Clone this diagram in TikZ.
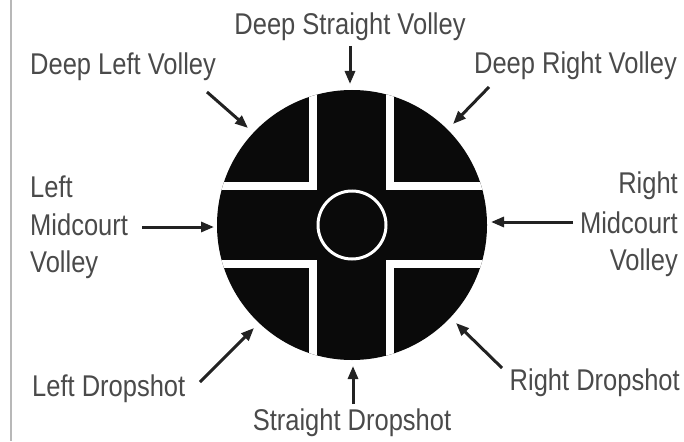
\documentclass[tikz,border=0pt]{standalone}
\usepackage{fontspec}
\setmainfont{Liberation Sans}[FakeStretch=0.85]
\usetikzlibrary{arrows.meta}
\definecolor{txtgray}{HTML}{4A4A4A}
\definecolor{arrgray}{HTML}{222222}
\definecolor{diskblack}{HTML}{0A0A0A}
\definecolor{edgegray}{HTML}{B8B8B8}
\begin{document}
\begin{tikzpicture}[x=1pt,y=-1pt,
  lbl/.style={text=txtgray, font=\fontsize{30}{36}\selectfont, inner sep=0pt},
  arr/.style={draw=arrgray, line width=3pt, -{Triangle[length=13pt,width=10pt]}},
  gap/.style={draw=white, line width=8pt, miter limit=10}]
\useasboundingbox (0,0) rectangle (684,441);
% left border line
\draw[edgegray, line width=2pt] (11,0) -- (11,441);
% disk
\node[circle, fill=diskblack, minimum size=270pt, inner sep=0pt] (disk) at (352,225) {};
\begin{scope}
  \clip (352,225) circle (135);
  \draw[gap] (313,80) -- (313,186) -- (200,186);
  \draw[gap] (390,80) -- (390,186) -- (500,186);
  \draw[gap] (313,370) -- (313,264) -- (200,264);
  \draw[gap] (390,370) -- (390,264) -- (500,264);
\end{scope}
\node[circle, draw=white, line width=3pt, minimum size=68pt, inner sep=0pt] (ring) at (352,225) {};
% labels
\node[lbl, anchor=base] (dsv) at (350,35) {Deep Straight Volley};
\node[lbl, anchor=base west] (dlv) at (30,75) {Deep Left Volley};
\node[lbl, anchor=base east] (drv) at (677,74) {Deep Right Volley};
\node[lbl, anchor=base west] (lmva) at (30,197) {Left};
\node[lbl, anchor=base west] (lmvb) at (30,235) {Midcourt};
\node[lbl, anchor=base west] (lmvc) at (30,272) {Volley};
\node[lbl, anchor=base east] (rmva) at (678,193) {Right};
\node[lbl, anchor=base east] (rmvb) at (678,233) {Midcourt};
\node[lbl, anchor=base east] (rmvc) at (678,270) {Volley};
\node[lbl, anchor=base west] (ld) at (32,396) {Left Dropshot};
\node[lbl, anchor=base east] (rd) at (680,390) {Right Dropshot};
\node[lbl, anchor=base] (sd) at (352,430) {Straight Dropshot};
% arrow end points
\coordinate (dsvS) at (350,46);   \coordinate (dsvT) at (350,84);
\coordinate (dlvS) at (207,92);   \coordinate (dlvT) at (248,128);
\coordinate (drvS) at (489,87);   \coordinate (drvT) at (453,124);
\coordinate (lmvS) at (142,227);  \coordinate (lmvT) at (214,227);
\coordinate (rmvS) at (573,222);  \coordinate (rmvT) at (491,222);
\coordinate (ldS) at (200,382);   \coordinate (ldT) at (254,328);
\coordinate (rdS) at (502,368);   \coordinate (rdT) at (456,323);
\coordinate (sdS) at (353,404);   \coordinate (sdT) at (353,366);
\draw[arr] (dsvS) -- (dsvT);
\draw[arr] (dlvS) -- (dlvT);
\draw[arr] (drvS) -- (drvT);
\draw[arr] (lmvS) -- (lmvT);
\draw[arr] (rmvS) -- (rmvT);
\draw[arr] (ldS) -- (ldT);
\draw[arr] (rdS) -- (rdT);
\draw[arr] (sdS) -- (sdT);
\end{tikzpicture}
\end{document}
